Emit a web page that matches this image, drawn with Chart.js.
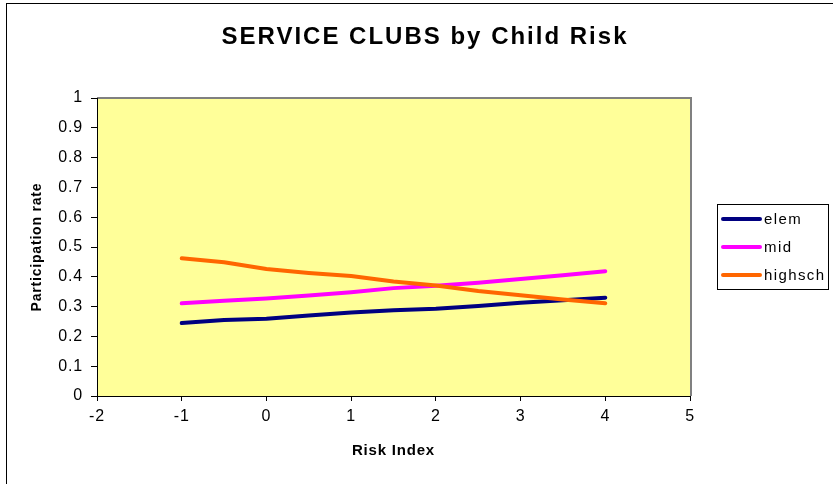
<!DOCTYPE html>
<html>
<head>
<meta charset="utf-8">
<script src="https://cdn.jsdelivr.net/npm/chart.js@4/dist/chart.umd.min.js"></script>
<style>
  html, body { margin: 0; padding: 0; background: #fff; }
</style>
</head>
<body>
<canvas id="myChart" width="833" height="484"></canvas>
<script>
const riskIndex = [-1, -0.5, 0, 0.5, 1, 1.5, 2, 2.5, 3, 3.5, 4];
const elem    = [0.245, 0.255, 0.259, 0.270, 0.280, 0.288, 0.293, 0.302, 0.313, 0.321, 0.330];
const mid     = [0.311, 0.320, 0.327, 0.337, 0.348, 0.362, 0.370, 0.380, 0.393, 0.405, 0.419];
const highsch = [0.462, 0.449, 0.426, 0.413, 0.403, 0.384, 0.371, 0.352, 0.338, 0.324, 0.311];

const FONT = "'Liberation Sans', Arial, sans-serif";

function toPoints(values) {
    return riskIndex.map((x, i) => ({ x: x, y: values[i] }));
}

// background, frame, plot area, title and legend
const excelLook = {
    id: 'excelLook',
    beforeLayout(chart) {
        chart.ctx.letterSpacing = '0.8px';
    },
    beforeDraw(chart) {
        const ctx = chart.ctx;
        const a = chart.chartArea;
        ctx.letterSpacing = '0.8px';
        ctx.save();
        ctx.fillStyle = '#fff';
        ctx.fillRect(0, 0, chart.width, chart.height);
        ctx.strokeStyle = '#000';
        ctx.lineWidth = 1;
        ctx.strokeRect(6.5, 3.5, chart.width, chart.height);
        ctx.fillStyle = '#FFFF99';
        ctx.fillRect(a.left, a.top, a.width, a.height);
        ctx.strokeStyle = '#808080';
        ctx.lineWidth = 2;
        ctx.beginPath();
        ctx.moveTo(a.left, a.top);
        ctx.lineTo(a.right + 1, a.top);
        ctx.lineTo(a.right + 1, a.bottom);
        ctx.stroke();
        ctx.restore();
    },
    afterDraw(chart) {
        const ctx = chart.ctx;
        ctx.save();
        // title
        ctx.letterSpacing = '2px';
        ctx.fillStyle = '#000';
        ctx.font = 'bold 24px ' + FONT;
        ctx.textAlign = 'center';
        ctx.textBaseline = 'alphabetic';
        ctx.fillText('SERVICE CLUBS by Child Risk', 425, 44);

        // legend
        ctx.lineWidth = 1;
        ctx.strokeStyle = '#000';
        ctx.strokeRect(717.5, 204.5, 111, 85);
        ctx.font = '15px ' + FONT;
        ctx.letterSpacing = '1.4px';
        ctx.textAlign = 'left';
        ctx.textBaseline = 'middle';
        chart.data.datasets.forEach((ds, i) => {
            const y = 219 + i * 28;
            ctx.strokeStyle = ds.borderColor;
            ctx.lineWidth = 4;
            ctx.lineCap = 'round';
            ctx.beginPath();
            ctx.moveTo(723, y);
            ctx.lineTo(760, y);
            ctx.stroke();
            ctx.fillText(ds.label, 764, y + 1);
        });
        ctx.restore();
    }
};

new Chart('myChart', {
    type: 'line',
    data: {
        datasets: [{
            label: 'elem',
            data: toPoints(elem),
            borderColor: '#000080',
            order: 2
        }, {
            label: 'mid',
            data: toPoints(mid),
            borderColor: '#FF00FF',
            order: 1
        }, {
            label: 'highsch',
            data: toPoints(highsch),
            borderColor: '#FF6600',
            order: 0
        }]
    },
    options: {
        responsive: false,
        animation: false,
        devicePixelRatio: 1,
        layout: { padding: { left: 0, top: 98, right: 143, bottom: 0 } },
        elements: {
            line: { borderWidth: 4, tension: 0, fill: false, borderCapStyle: 'round', borderJoinStyle: 'round' },
            point: { radius: 0, hoverRadius: 0 }
        },
        plugins: {
            legend: { display: false },
            title: { display: false },
            tooltip: { enabled: false }
        },
        scales: {
            x: {
                type: 'linear',
                min: -2,
                max: 5,
                ticks: { stepSize: 1, color: '#000', padding: 6, maxRotation: 0, font: { family: FONT, size: 16 } },
                grid: { drawOnChartArea: false, color: '#000', tickLength: 5 },
                border: { color: '#000', width: 1 },
                title: {
                    display: true,
                    text: 'Risk Index',
                    color: '#000',
                    font: { family: FONT, size: 15, weight: 'bold' },
                    padding: { top: 0, bottom: 24 }
                },
                afterFit(scale) { scale.height = 88; }
            },
            y: {
                min: 0,
                max: 1,
                ticks: {
                    stepSize: 0.1,
                    color: '#000',
                    padding: 8,
                    font: { family: FONT, size: 16 },
                    callback: function (value) {
                        // 1 and 0 without decimals
                        return String(Number(value.toFixed(1)));
                    }
                },
                grid: { drawOnChartArea: false, color: '#000', tickLength: 6 },
                border: { color: '#000', width: 1 },
                title: {
                    display: true,
                    text: 'Participation rate',
                    color: '#000',
                    font: { family: FONT, size: 14, weight: 'bold' },
                    padding: { top: 29, bottom: 0 }
                },
                afterFit(scale) { scale.width = 97; }
            }
        }
    },
    plugins: [excelLook]
});
</script>
</body>
</html>
